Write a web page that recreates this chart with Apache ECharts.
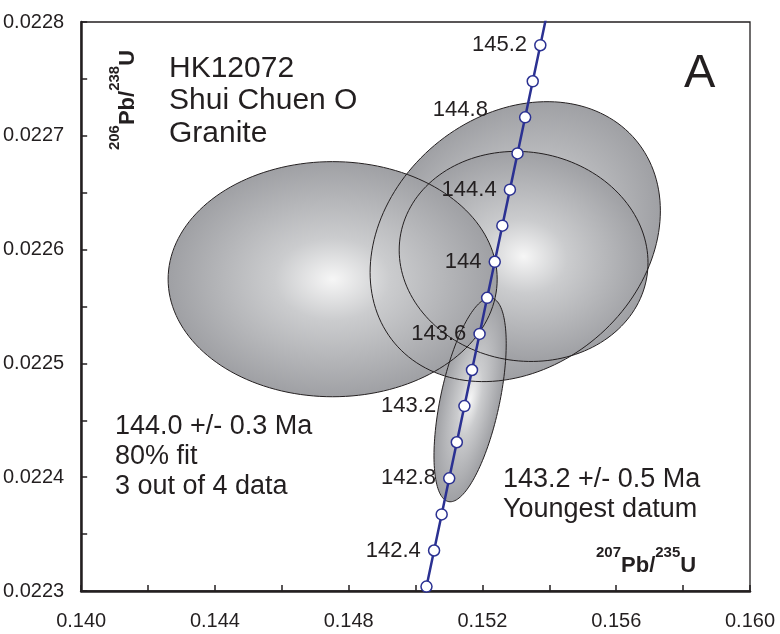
<!DOCTYPE html>
<html>
<head>
<meta charset="utf-8">
<script src="https://cdn.jsdelivr.net/npm/echarts@6/dist/echarts.min.js"></script>
<style>
html, body { margin: 0; padding: 0; background: #fff; }
#chart { width: 780px; height: 634px; }
</style>
</head>
<body>
<div id="chart"></div>
<script>
// Concordia curve, 142.0 - 145.4 Ma every 0.2 Ma
const concordiaAge = [142.0, 142.2, 142.4, 142.6, 142.8, 143.0, 143.2, 143.4, 143.6,
                      143.8, 144.0, 144.2, 144.4, 144.6, 144.8, 145.0, 145.2, 145.4];
const concordiaX = [0.150100, 0.150326, 0.150553, 0.150780, 0.151006, 0.151233, 0.151460, 0.151687, 0.151913,
                    0.152140, 0.152367, 0.152594, 0.152821, 0.153048, 0.153276, 0.153503, 0.153730, 0.153957];
const concordiaY = [0.0222722, 0.0223039, 0.0223356, 0.0223673, 0.0223990, 0.0224307, 0.0224625, 0.0224942, 0.0225259,
                    0.0225576, 0.0225893, 0.0226210, 0.0226527, 0.0226845, 0.0227162, 0.0227479, 0.0227796, 0.0228113];

// ages that get a marker / a text label
const markerAge = [142.2, 142.4, 142.6, 142.8, 143.0, 143.2, 143.4, 143.6,
                   143.8, 144.0, 144.2, 144.4, 144.6, 144.8, 145.0, 145.2];
const labelledAge = ['142.4', '142.8', '143.2', '143.6', '144', '144.4', '144.8', '145.2'];

// error ellipses: centre, half extent in x / y, correlation
const ellipseX   = [0.15298, 0.15323, 0.15163, 0.14752];
const ellipseY   = [0.022607, 0.022594, 0.022468, 0.022574];
const ellipseSx  = [0.00434, 0.00372, 0.00108, 0.00492];
const ellipseSy  = [0.000123, 0.0000923, 0.0000896, 0.0001033];
const ellipseRho = [0.22, -0.06, 0.55, 0.0];

// axis ticks
const xTickStep = 0.002;
const yTickStep = 0.00005;

const INK = '#231f20';
const BLUE = '#2b3192';
const FONT = 'Liberation Sans, Arial, Helvetica, sans-serif';

// label tweaks per age (distance from marker, extra offset)
const labelPlace = {
    '144.8': { distance: 31, offset: [0, -7] },
    '143.2': { distance: 22, offset: [0, 0] },
};

const ellipseRows = ellipseX.map((x, i) => [x, ellipseY[i], ellipseSx[i], ellipseSy[i], ellipseRho[i]]);
const lineData = concordiaX.map((x, i) => [x, concordiaY[i]]);
const markerData = markerAge.map(age => {
    const i = concordiaAge.findIndex(a => Math.abs(a - age) < 1e-6);
    const name = labelledAge.find(l => Math.abs(parseFloat(l) - age) < 1e-6);
    const item = { value: [concordiaX[i], concordiaY[i]] };
    if (name) {
        const p = labelPlace[name] || { distance: 7, offset: [0, 0] };
        item.label = { show: true, formatter: name, position: 'left', distance: p.distance, offset: p.offset };
    }
    return item;
});

// pixel-space ellipse from data-space half extents + correlation
function ellipseShape(api) {
    const c = api.coord([api.value(0), api.value(1)]);
    const s = api.size([api.value(2), api.value(3)]);
    const rho = api.value(4);
    const A = s[0] * s[0], D = s[1] * s[1], B = -rho * s[0] * s[1];
    const m = (A + D) / 2, d = Math.sqrt((A - D) * (A - D) / 4 + B * B);
    return { c: c, a: Math.sqrt(m + d), b: Math.sqrt(Math.max(m - d, 1e-6)), theta: 0.5 * Math.atan2(2 * B, A - D) };
}

const chart = echarts.init(document.getElementById('chart'));

const axisRich = {
    b: { fontSize: 22, fontWeight: 'bold', lineHeight: 31, verticalAlign: 'bottom', fontFamily: FONT, fill: INK },
    sup: { fontSize: 15, fontWeight: 'bold', verticalAlign: 'top', fontFamily: FONT, fill: INK }
};

const option = {
    animation: false,
    textStyle: { fontFamily: FONT },
    grid: { left: 81, right: 30, top: 22, bottom: 43, show: true, borderColor: INK, borderWidth: 1.3 },
    xAxis: {
        type: 'value', min: 0.14, max: 0.16, interval: xTickStep,
        axisLine: { show: true, onZero: false, lineStyle: { color: INK, width: 2.5 } },
        axisTick: { show: true, inside: true, length: 6, lineStyle: { color: INK, width: 1.5 } },
        axisLabel: {
            margin: 20, fontSize: 20, color: INK, fontFamily: FONT,
            formatter: v => Math.round(v / xTickStep) % 2 === 0 ? v.toFixed(3) : ''
        },
        splitLine: { show: false }
    },
    yAxis: {
        type: 'value', min: 0.0223, max: 0.0228, interval: yTickStep,
        axisLine: { show: true, onZero: false, lineStyle: { color: INK, width: 2.5 } },
        axisTick: { show: true, inside: true, length: 6, lineStyle: { color: INK, width: 1.5 } },
        axisLabel: {
            margin: 17, fontSize: 20, color: INK, fontFamily: FONT,
            formatter: v => Math.round(v / yTickStep) % 2 === 0 ? v.toFixed(4) : ''
        },
        splitLine: { show: false }
    },
    series: [
        {
            // shaded fills
            type: 'custom', z: 1, data: ellipseRows, encode: { x: 0, y: 1 },
            renderItem: function (params, api) {
                const e = ellipseShape(api);
                return {
                    type: 'circle', x: e.c[0], y: e.c[1], rotation: -e.theta, scaleX: e.a / e.b, scaleY: 1,
                    shape: { cx: 0, cy: 0, r: e.b },
                    style: {
                        fill: {
                            type: 'radial', x: 0.5, y: 0.5, r: 0.5,
                            colorStops: [
                                { offset: 0, color: '#f6f6f6' },
                                { offset: 0.35, color: '#cbccce' },
                                { offset: 1, color: '#9fa0a4' }
                            ]
                        }
                    }
                };
            }
        },
        {
            // outlines on top of every fill
            type: 'custom', z: 2, data: ellipseRows, encode: { x: 0, y: 1 },
            renderItem: function (params, api) {
                const cx = api.value(0), cy = api.value(1), sx = api.value(2), sy = api.value(3), rho = api.value(4);
                const pts = [];
                for (let i = 0; i < 160; i++) {
                    const t = i / 160 * 2 * Math.PI;
                    pts.push(api.coord([cx + sx * Math.cos(t),
                        cy + sy * (rho * Math.cos(t) + Math.sqrt(1 - rho * rho) * Math.sin(t))]));
                }
                return { type: 'polygon', shape: { points: pts }, style: { fill: 'none', stroke: INK, lineWidth: 1 } };
            }
        },
        {
            type: 'line', z: 3, data: lineData, showSymbol: false, symbol: 'none', clip: true,
            lineStyle: { color: BLUE, width: 2.5 }
        },
        {
            type: 'scatter', z: 4, data: markerData, symbol: 'circle', symbolSize: 11,
            itemStyle: { color: '#fff', borderColor: BLUE, borderWidth: 1.5, opacity: 1 },
            label: { color: INK, fontSize: 22, fontFamily: FONT }
        }
    ],
    graphic: [
        {
            type: 'text', x: 169, y: 52,
            style: { text: 'HK12072\nShui Chuen O\nGranite', fontSize: 30, lineHeight: 32.5, fill: INK,
                     fontFamily: FONT, align: 'left', verticalAlign: 'top' }
        },
        {
            type: 'text', x: 684, y: 74,
            style: { text: 'A', fontSize: 47, fill: INK, fontFamily: FONT, align: 'left', verticalAlign: 'middle' }
        },
        {
            type: 'text', x: 115, y: 412,
            style: { text: '144.0 +/- 0.3 Ma\n80% fit\n3 out of 4 data', fontSize: 27, lineHeight: 30, fill: INK,
                     fontFamily: FONT, align: 'left', verticalAlign: 'top' }
        },
        {
            type: 'text', x: 503, y: 465,
            style: { text: '143.2 +/- 0.5 Ma\nYoungest datum', fontSize: 27, lineHeight: 30, fill: INK,
                     fontFamily: FONT, align: 'left', verticalAlign: 'top' }
        },
        {
            type: 'text', x: 596, y: 561,
            style: { text: '{sup|207}{b|Pb/}{sup|235}{b|U}', align: 'left', verticalAlign: 'middle', fill: INK, rich: axisRich }
        },
        {
            type: 'text', x: 123, y: 100, rotation: Math.PI / 2,
            style: { text: '{sup|206}{b|Pb/}{sup|238}{b|U}', align: 'center', verticalAlign: 'middle', fill: INK, rich: axisRich }
        }
    ]
};

chart.setOption(option);
</script>
</body>
</html>
